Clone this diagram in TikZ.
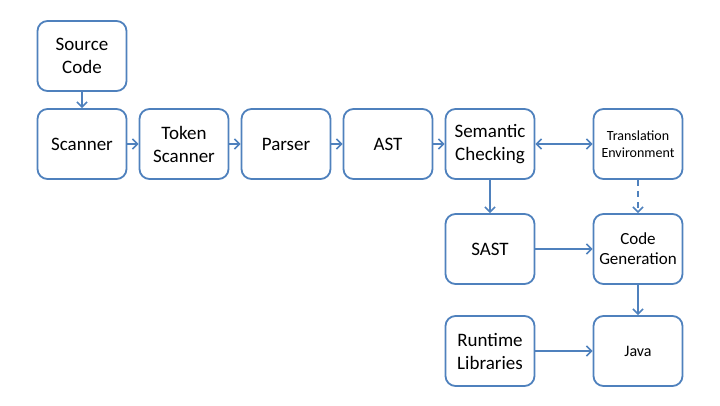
\documentclass[tikz,border=0pt]{standalone}
\usepackage{fontspec}
\setmainfont{Carlito}
\usetikzlibrary{arrows.meta}
\definecolor{officeblue}{RGB}{79,129,189}
\tikzset{
	stagebox/.style={rectangle, rounded corners=10pt, draw=officeblue, line width=1.8pt, fill=white, minimum width=89pt, minimum height=70pt, align=center, font=\fontsize{19}{23}\selectfont},
	flow/.style={draw=officeblue, line width=1.6pt, -{Straight Barb[length=5pt,width=10pt]}}
}
\begin{document}
\begin{tikzpicture}[x=1pt,y=-1pt]
			\useasboundingbox (0,0) rectangle (720,405);
			\node[stagebox] (src) at (82,56) {Source\\Code};
			\node[stagebox] (scan) at (82,144) {Scanner};
			\node[stagebox] (tok) at (184,144) {Token\\Scanner};
			\node[stagebox] (parse) at (286,144) {Parser};
			\node[stagebox] (ast) at (388,144) {AST};
			\node[stagebox] (sem) at (490,144) {Semantic\\Checking};
			\node[stagebox, font=\fontsize{14}{17}\selectfont] (trans) at (638,144) {Translation\\Environment};
			\node[stagebox] (sast) at (490,249) {SAST};
			\node[stagebox, font=\fontsize{17}{20}\selectfont] (cgen) at (638,249) {Code\\Generation};
			\node[stagebox] (rt) at (490,351) {Runtime\\Libraries};
			\node[stagebox, font=\fontsize{16}{19}\selectfont] (java) at (638,351) {Java};
			
			\draw[flow] (src) -- (scan);
			\draw[flow] (scan) -- (tok);
			\draw[flow] (tok) -- (parse);
			\draw[flow] (parse) -- (ast);
			\draw[flow] (ast) -- (sem);
			\draw[flow, {Straight Barb[length=5pt,width=10pt]}-{Straight Barb[length=5pt,width=10pt]}] (sem) -- (trans);
			\draw[flow] (sem) -- (sast);
			\draw[flow, dashed, dash pattern=on 6pt off 5pt] (trans) -- (cgen);
			\draw[flow] (sast) -- (cgen);
			\draw[flow] (cgen) -- (java);
			\draw[flow] (rt) -- (java);
		\end{tikzpicture}
\end{document}
